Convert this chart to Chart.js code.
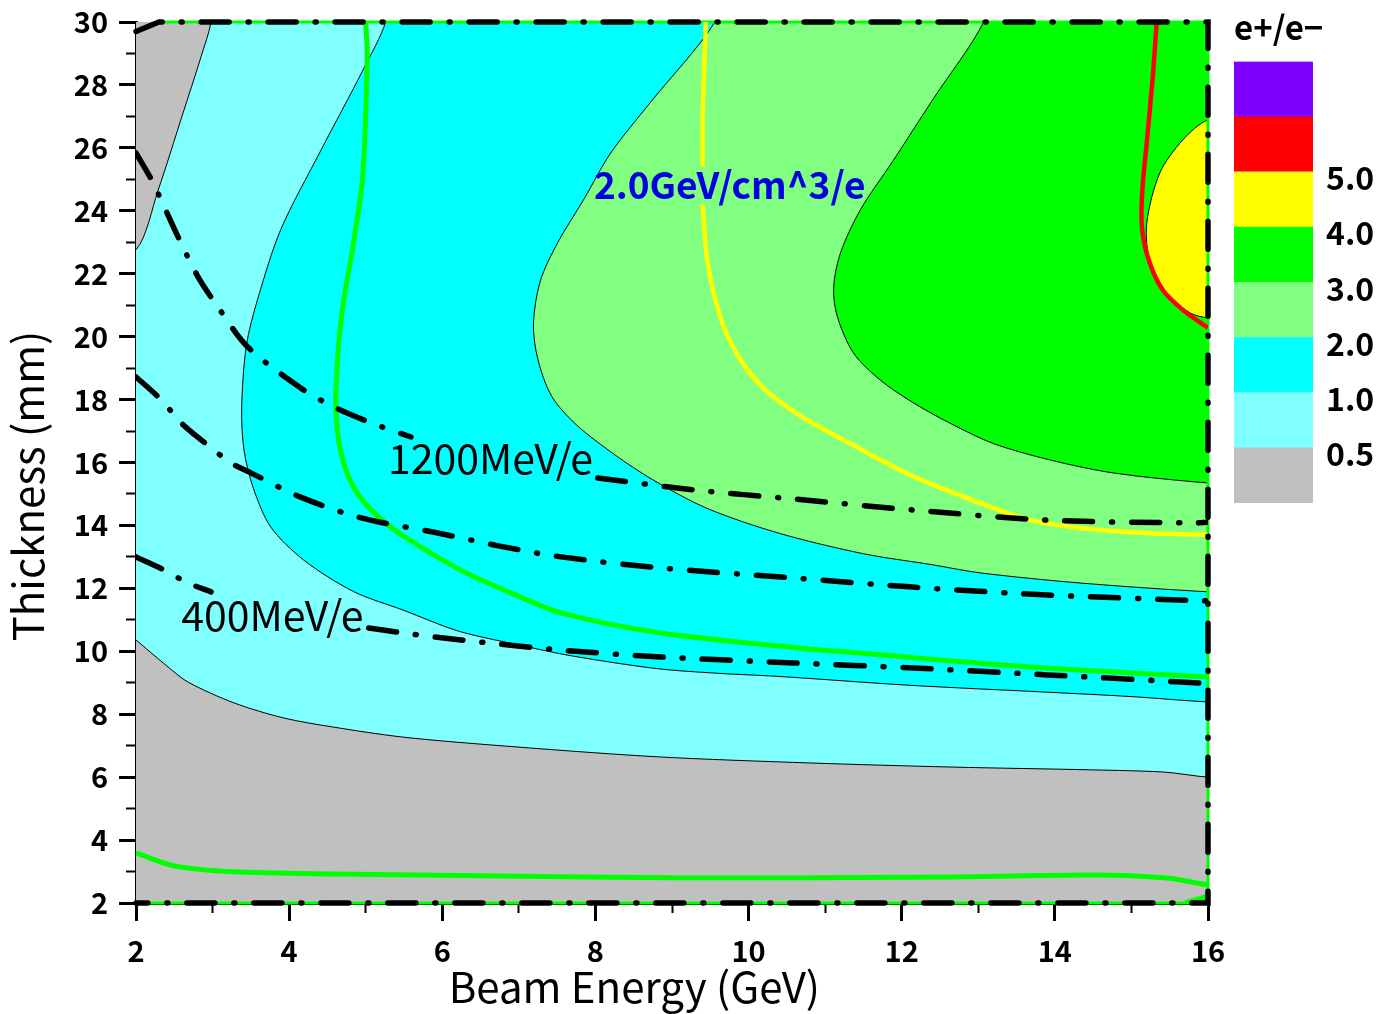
<!DOCTYPE html>
<html>
<head>
<meta charset="utf-8">
<script src="https://cdn.jsdelivr.net/npm/chart.js@4.4.0/dist/chart.umd.min.js"></script>
<style>
  body { margin: 0; background: #fff; }
  #main { position: absolute; left: 0; top: 0; }
  #bar { position: absolute; left: 1230px; top: 0; }
</style>
</head>
<body>
<canvas id="main" width="1225" height="1014"></canvas>
<canvas id="bar" width="149" height="1014"></canvas>
<script>
// contour edges, each point is [beam energy GeV, thickness mm]
var edge05Low = [[2,10.36],[2.42,9.5],[2.68,9.02],[3.28,8.36],[3.93,7.88],[4.58,7.59],[5.46,7.28],[6.6,7.03],[8.78,6.65],[10.81,6.45],[12.66,6.32],[14.5,6.23],[15.43,6.16],[16,6.0]];
var edge05Top = [[2.98,30],[2.85,28.9],[2.6,27.0],[2.29,24.66],[2,22.76]];
var edge10 = [[5.26,30],[4.97,28.5],[4.41,25.9],[3.89,23.4],[3.59,21.2],[3.44,19.7],[3.38,17.7],[3.41,16.4],[3.53,15.2],[3.76,13.95],[4.19,12.9],[4.84,11.9],[5.5,11.3],[6.2,10.65],[7.0,10.2],[7.7,9.85],[8.8,9.45],[9.6,9.3],[10.4,9.2],[12.1,8.92],[13.9,8.7],[15.0,8.56],[16,8.39]];
var edge20 = [[9.56,30],[8.72,27.45],[8.2,25.84],[7.85,24.37],[7.51,23.0],[7.28,21.77],[7.19,20.4],[7.25,19.26],[7.43,18.1],[7.75,17.2],[8.25,16.25],[8.75,15.45],[9.45,14.55],[10.4,13.75],[11.5,13.1],[12.4,12.75],[13.03,12.49],[14.33,12.17],[16,11.89]];
var edge30 = [[13.07,30],[12.41,27.55],[11.89,25.6],[11.46,24.03],[11.2,22.66],[11.11,21.55],[11.16,20.63],[11.37,19.48],[11.72,18.62],[12.15,17.9],[12.63,17.25],[13.2,16.6],[13.94,16.08],[14.76,15.67],[16,15.35]];
var edge40 = [[16,26.89],[15.67,26.25],[15.37,25.2],[15.2,23.6],[15.24,22.34],[15.41,21.48],[15.77,20.75],[16,20.6]];

// coloured curves
var greenHigh = [[5.0,30],[5.02,28.9],[4.96,25.08],[4.84,22.98],[4.70,20.94],[4.64,19.58],[4.61,17.77],[4.67,16.4],[4.84,15.22],[5.11,14.4],[5.5,13.65],[6.24,12.58],[6.9,11.85],[7.55,11.22],[8.85,10.58],[10.68,10.1],[11.42,9.95],[13.27,9.57],[14.5,9.38],[16,9.18]];
var greenLow = [[2,3.59],[2.5,3.18],[3.28,2.99],[4.58,2.92],[6.76,2.86],[9,2.8],[12.66,2.83],[14.5,2.89],[15.43,2.8],[16,2.57]];
var greenCorner = [[15.7,2],[16,2.22]];
var yellowTop = [[9.44,30],[9.42,28.5],[9.40,26.98],[9.40,25.4]];
var yellowLow = [[9.40,24.2],[9.46,22.44],[9.63,20.63],[9.86,19.4],[10.2,18.35],[10.7,17.45],[11.29,16.65],[12.15,15.56],[13.03,14.71],[13.68,14.17],[14.33,13.92],[15.2,13.76],[16,13.7]];
var redLine = [[15.33,30],[15.28,28.3],[15.2,26.16],[15.14,24.57],[15.14,23.4],[15.24,22.34],[15.41,21.48],[15.67,20.85],[16,20.28]];

// deposited energy contours (dash-dot)
var e1200a = [[2,25.84],[2.22,24.9],[2.55,23.17],[2.81,21.9],[3.07,20.94],[3.46,19.67],[4.15,18.37],[4.58,17.77],[5.07,17.26],[5.59,16.81]];
var e1200b = [[8.03,15.51],[9.28,15.13],[10.59,14.84],[12.15,14.49],[13.9,14.17],[15.8,14.08],[16,14.1]];
var e800 = [[2,18.72],[2.33,17.99],[2.59,17.26],[2.85,16.72],[3.24,15.99],[3.5,15.67],[4.15,14.9],[4.94,14.24],[5.94,13.76],[6.8,13.32],[7.55,13.0],[8.85,12.65],[10.59,12.33],[12.15,12.04],[13.9,11.79],[16,11.6]];
var e400a = [[2,13.0],[2.37,12.58],[2.68,12.17],[2.98,11.89]];
var e400b = [[5.04,10.74],[5.5,10.58],[6.24,10.36],[7.55,10.04],[8.85,9.82],[10.59,9.63],[12.15,9.47],[13.9,9.25],[16,8.98]];
var frameEdge = [[2,29.7],[2.3,30],[16,30],[16,2],[2,2]];

var energyTicks = [2,4,6,8,10,12,14,16];
var energyMinor = [3,5,7,9,11,13,15];
var thickTicks = [2,4,6,8,10,12,14,16,18,20,22,24,26,28,30];
var thickMinor = [3,5,7,9,11,13,15,17,19,21,23,25,27,29];

var scaleLevels = ['0.5','1.0','2.0','3.0','4.0','5.0'];
var scaleColors = ['#c0c0c0','#80ffff','#00ffff','#80ff80','#00ff00','#ffff00','#ff0000','#8000ff'];

var notes = [
  { text: '1200MeV/e', x: 5.29, y: 16.12, font: '41px "Noto Sans CJK JP"', color: '#000' },
  { text: '400MeV/e', x: 2.59, y: 11.15, font: '41px "Noto Sans CJK JP"', color: '#000' },
  { text: '2.0GeV/cm^3/e', x: 7.98, y: 24.82, font: 'bold 37px "Noto Sans CJK JP"', color: '#0000e0' }
];

var X0 = 2, X1 = 16, Y0 = 2, Y1 = 30;
Chart.defaults.font.family = '"Noto Sans CJK JP", "Noto Sans", sans-serif';

function pts(a) {
  return a.map(function(p) { return { x: p[0], y: p[1] }; });
}
// push a point on the frame just outside it, so closing edges are clipped away
function out(p) {
  if (p[0] <= X0) return [X0 - 0.4, p[1]];
  if (p[0] >= X1) return [X1 + 0.4, p[1]];
  if (p[1] >= Y1) return [p[0], Y1 + 0.8];
  return [p[0], Y0 - 0.8];
}
var TR = [X1 + 0.4, Y1 + 0.8];

function region(a, color) {
  return { data: pts(a), fill: 'shape', backgroundColor: color, borderColor: '#000', borderWidth: 1, tension: 0.3 };
}
function curve(a, color, w) {
  return { data: pts(a), fill: false, borderColor: color, borderWidth: w, tension: 0.3 };
}
function dashed(a) {
  return { data: pts(a), fill: false, borderColor: '#000', borderWidth: 5.5, tension: 0.3, borderDash: [28, 19, 1, 19], borderCapStyle: 'round' };
}
function openEdge(edge) {
  return [out(edge[0])].concat(edge, [out(edge[edge.length - 1]), TR]);
}

var sets = [
  { data: pts([[X0 - 0.4, Y0 - 0.8], [X1 + 0.4, Y0 - 0.8], TR, [X0 - 0.4, Y1 + 0.8]]), fill: 'shape', backgroundColor: '#c0c0c0', borderWidth: 0, tension: 0 },
  region(edge05Low.concat([out(edge05Low[edge05Low.length - 1]), TR, out(edge05Top[0])], edge05Top, [out(edge05Top[edge05Top.length - 1]), out(edge05Low[0])]), '#80ffff'),
  region(openEdge(edge10), '#00ffff'),
  region(openEdge(edge20), '#80ff80'),
  region(openEdge(edge30), '#00ff00'),
  region([out(edge40[0])].concat(edge40, [out(edge40[edge40.length - 1])]), '#ffff00'),
  { data: pts(frameEdge.slice(1)), fill: false, borderColor: '#00ff00', borderWidth: 3, tension: 0, clip: 4 },
  curve(greenLow, '#00ff00', 5),
  curve(greenCorner, '#00ff00', 5),
  curve(greenHigh, '#00ff00', 5),
  curve(yellowTop, '#ffff00', 4.5),
  curve(yellowLow, '#ffff00', 4.5),
  curve(redLine, '#ff0000', 4.5),
  dashed(e1200a),
  dashed(e1200b),
  dashed(e800),
  dashed(e400a),
  dashed(e400b),
  Object.assign(dashed(frameEdge), { tension: 0, clip: 6 })
];
sets.forEach(function(s, i) { s.order = sets.length - i; s.pointRadius = 0; });

var notePlugin = {
  id: 'notes',
  afterDatasetsDraw: function(chart) {
    var ctx = chart.ctx, xs = chart.scales.x, ys = chart.scales.y;
    ctx.save();
    ctx.textAlign = 'left';
    ctx.textBaseline = 'middle';
    notes.forEach(function(n) {
      ctx.font = n.font;
      ctx.fillStyle = n.color;
      ctx.fillText(n.text, xs.getPixelForValue(n.x), ys.getPixelForValue(n.y));
    });
    ctx.restore();
  }
};

function setTicks(list) {
  return function(s) { s.ticks = list.map(function(v) { return { value: v }; }); };
}

new Chart(document.getElementById('main'), {
  type: 'line',
  data: { datasets: sets },
  options: {
    responsive: false,
    animation: false,
    events: [],
    layout: { padding: { top: 22, right: 17, left: 0, bottom: 0 } },
    elements: { line: { capBezierPoints: false } },
    plugins: { legend: { display: false }, tooltip: { enabled: false } },
    scales: {
      x: {
        type: 'linear', position: 'bottom', min: X0, max: X1,
        afterBuildTicks: setTicks(energyTicks),
        afterFit: function(s) { s.height = 111; s.paddingLeft = 0; s.paddingRight = 0; },
        grid: { drawOnChartArea: false, tickLength: 18, tickWidth: 3, tickColor: '#000' },
        border: { color: '#000', width: 3 },
        ticks: { color: '#000', padding: 13, font: { size: 29, weight: 'bold' } },
        title: { display: true, text: 'Beam Energy (GeV)        ', color: '#000', font: { size: 42, lineHeight: 1 }, padding: { top: 0, bottom: 6 } }
      },
      y: {
        type: 'linear', position: 'left', min: Y0, max: Y1,
        afterBuildTicks: setTicks(thickTicks),
        afterFit: function(s) { s.width = 136; s.paddingTop = 0; s.paddingBottom = 0; },
        grid: { drawOnChartArea: false, tickLength: 17, tickWidth: 3, tickColor: '#000' },
        border: { color: '#000', width: 3 },
        ticks: { color: '#000', padding: 11, font: { size: 29, weight: 'bold' } },
        title: { display: true, text: 'Thickness (mm)     ', color: '#000', font: { size: 42, lineHeight: 1 }, padding: { top: 7, bottom: 0 } }
      },
      xMinor: {
        type: 'linear', axis: 'x', position: { y: Y0 }, min: X0, max: X1,
        afterBuildTicks: setTicks(energyMinor),
        grid: { drawOnChartArea: false, tickLength: 10, tickWidth: 2, tickColor: '#000' },
        border: { display: false },
        ticks: { display: false }
      },
      yMinor: {
        type: 'linear', axis: 'y', position: { x: X0 }, min: Y0, max: Y1,
        afterBuildTicks: setTicks(thickMinor),
        grid: { drawOnChartArea: false, tickLength: 10, tickWidth: 2, tickColor: '#000' },
        border: { display: false },
        ticks: { display: false }
      }
    }
  },
  plugins: [notePlugin]
});

// colour scale
new Chart(document.getElementById('bar'), {
  type: 'bar',
  data: {
    labels: [''],
    datasets: scaleColors.map(function(c) {
      return { data: [1], backgroundColor: c, borderWidth: 0, barPercentage: 1, categoryPercentage: 1 };
    })
  },
  options: {
    responsive: false,
    animation: false,
    events: [],
    layout: { padding: { left: 4, top: 0, right: 0, bottom: 511 } },
    plugins: {
      legend: { display: false },
      tooltip: { enabled: false },
      title: { display: true, text: 'e+/e\u2212', align: 'start', color: '#000', font: { size: 33, weight: 'bold', lineHeight: 1.2 }, padding: { top: 8, bottom: 14 } }
    },
    scales: {
      x: { stacked: true, display: false },
      y: {
        stacked: true, position: 'right', min: 0, max: scaleColors.length,
        afterBuildTicks: function(s) { s.ticks = scaleLevels.map(function(l, i) { return { value: i + 1 - 0.11 }; }); },
        afterFit: function(s) { s.width = 66; },
        grid: { display: false, drawTicks: false },
        border: { display: false },
        ticks: { padding: 13, color: '#000', autoSkip: false, font: { size: 32, weight: 'bold' }, callback: function(v, i) { return scaleLevels[i]; } }
      }
    }
  }
});
</script>
</body>
</html>
